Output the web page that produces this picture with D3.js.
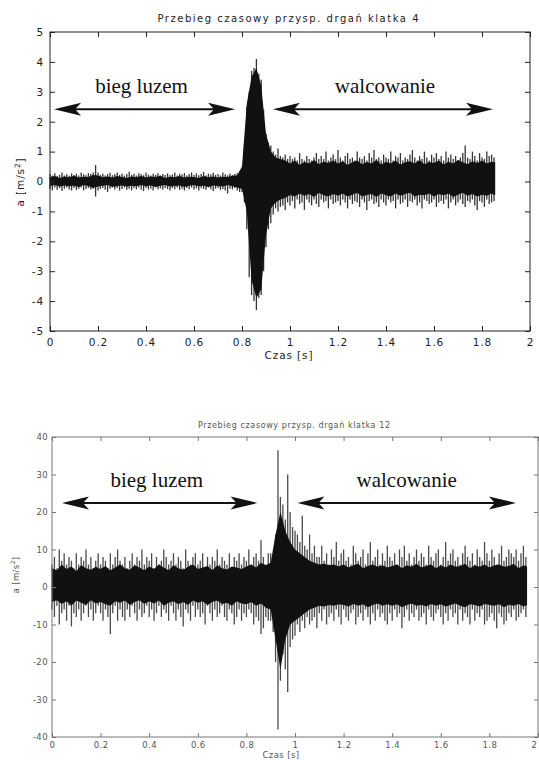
<!DOCTYPE html>
<html>
<head>
<meta charset="utf-8">
<script src="https://cdn.jsdelivr.net/npm/d3@7"></script>
<style>
  body { margin: 0; background: #fff; }
  svg { display: block; }
</style>
</head>
<body>
<div id="chart"></div>
<script>
const width = 539;
const height = 760;
const peakStep = 0.01;   // spike envelope resolution
const denseStep = 0.02;  // dense black band resolution

// ---- chart 1 (klatka 4): spike envelope per 0.01 s bin
const hiA = [
  0.25,0.2,0.28,0.18,0.22,0.3,0.2,0.24,0.19,0.27,
  0.22,0.26,0.2,0.3,0.24,0.21,0.28,0.25,0.3,0.55,
  0.3,0.22,0.26,0.2,0.25,0.29,0.21,0.24,0.3,0.22,
  0.27,0.2,0.25,0.33,0.22,0.26,0.2,0.28,0.24,0.21,
  0.3,0.23,0.2,0.26,0.22,0.28,0.2,0.25,0.22,0.27,
  0.21,0.24,0.3,0.2,0.26,0.23,0.28,0.2,0.25,0.3,
  0.22,0.27,0.21,0.25,0.32,0.2,0.26,0.23,0.29,0.22,
  0.25,0.2,0.3,0.24,0.21,0.27,0.22,0.25,0.28,0.35,
  0.4,1.2,2.5,3.0,3.7,3.8,4.1,3.6,3.4,2.4,
  1.6,1.3,1.2,1.0,0.9,1.1,0.85,0.8,0.9,0.75,
  0.85,0.75,0.8,0.7,0.95,0.75,0.7,0.85,0.75,0.7,
  0.8,0.95,0.75,0.85,0.75,1.0,0.7,0.8,0.9,0.75,
  1.05,0.8,0.7,0.85,0.95,0.75,0.8,0.7,1.0,0.8,
  0.75,0.85,0.7,0.95,0.8,1.05,0.75,0.8,0.7,0.9,
  0.8,0.75,1.0,0.7,0.85,0.8,0.95,0.7,0.8,0.75,
  0.9,1.05,0.8,0.7,0.85,0.75,1.0,0.8,0.7,0.9,
  0.8,0.95,0.75,0.85,0.7,1.0,0.8,0.9,0.75,0.85,
  0.7,0.8,0.95,1.2,0.8,0.75,1.0,0.85,0.7,0.95,
  0.8,0.75,1.0,0.85,0.9,0.8
];
const loA = [
  -0.25,-0.3,-0.2,-0.28,-0.22,-0.32,-0.24,-0.2,-0.27,-0.3,
  -0.22,-0.28,-0.24,-0.2,-0.3,-0.25,-0.22,-0.27,-0.24,-0.5,
  -0.3,-0.25,-0.22,-0.28,-0.35,-0.24,-0.2,-0.27,-0.22,-0.3,
  -0.25,-0.2,-0.28,-0.24,-0.3,-0.22,-0.26,-0.2,-0.28,-0.32,
  -0.22,-0.27,-0.24,-0.3,-0.2,-0.26,-0.23,-0.28,-0.22,-0.25,
  -0.3,-0.22,-0.26,-0.2,-0.28,-0.24,-0.3,-0.22,-0.26,-0.2,
  -0.27,-0.23,-0.3,-0.22,-0.25,-0.28,-0.2,-0.26,-0.32,-0.24,
  -0.22,-0.28,-0.25,-0.3,-0.4,-0.24,-0.27,-0.22,-0.3,-0.35,
  -0.35,-0.7,-1.6,-3.2,-3.8,-4.0,-4.3,-3.9,-3.8,-3.0,
  -2.2,-1.6,-1.4,-1.1,-0.9,-1.0,-0.85,-0.8,-0.95,-0.7,
  -0.8,-0.65,-0.9,-0.6,-0.75,-0.7,-0.95,-0.6,-0.7,-0.8,
  -0.6,-0.75,-0.85,-0.6,-0.7,-0.65,-0.9,-0.6,-0.75,-0.7,
  -0.65,-0.8,-0.6,-0.7,-0.9,-0.6,-0.75,-0.65,-0.7,-0.85,
  -0.6,-0.7,-0.95,-0.65,-0.6,-0.75,-0.7,-0.85,-0.6,-0.7,
  -0.8,-0.6,-0.7,-0.65,-0.9,-0.6,-0.75,-0.7,-0.6,-0.85,
  -0.65,-0.7,-0.6,-0.8,-0.7,-0.9,-0.6,-0.65,-0.75,-0.7,
  -0.6,-0.85,-0.7,-0.65,-0.75,-0.6,-0.9,-0.7,-0.6,-0.8,
  -0.7,-0.6,-0.75,-0.85,-0.65,-0.7,-0.6,-0.8,-0.95,-0.65,
  -0.7,-0.85,-0.6,-0.75,-0.7,-0.65
];
// dense black band per 0.02 s
const denseHiA = [
  0.15,0.18,0.12,0.17,0.14,0.19,0.13,0.16,0.15,0.22,
  0.2,0.14,0.17,0.13,0.18,0.15,0.12,0.17,0.14,0.18,
  0.13,0.17,0.15,0.19,0.12,0.16,0.14,0.18,0.13,0.16,
  0.15,0.12,0.18,0.14,0.17,0.13,0.16,0.15,0.19,0.2,
  0.5,2.6,3.5,3.8,3.2,1.6,1.0,0.8,0.75,0.7,
  0.6,0.7,0.55,0.65,0.6,0.72,0.58,0.66,0.62,0.7,
  0.6,0.68,0.55,0.64,0.7,0.58,0.65,0.6,0.72,0.57,
  0.66,0.6,0.7,0.56,0.64,0.68,0.6,0.72,0.58,0.65,
  0.62,0.7,0.57,0.66,0.6,0.72,0.64,0.58,0.68,0.62,
  0.7,0.6,0.66,0.64
];
const denseLoA = [
  -0.15,-0.12,-0.17,-0.13,-0.16,-0.14,-0.18,-0.12,-0.15,-0.22,
  -0.17,-0.14,-0.12,-0.18,-0.15,-0.13,-0.17,-0.14,-0.16,-0.12,
  -0.16,-0.13,-0.18,-0.14,-0.12,-0.17,-0.15,-0.13,-0.18,-0.14,
  -0.12,-0.16,-0.14,-0.18,-0.13,-0.15,-0.17,-0.12,-0.16,-0.2,
  -0.25,-1.0,-3.3,-3.9,-3.6,-1.8,-0.9,-0.7,-0.6,-0.55,
  -0.45,-0.5,-0.4,-0.48,-0.42,-0.52,-0.38,-0.46,-0.5,-0.42,
  -0.48,-0.4,-0.5,-0.44,-0.38,-0.5,-0.45,-0.42,-0.52,-0.4,
  -0.46,-0.5,-0.4,-0.48,-0.42,-0.38,-0.5,-0.44,-0.46,-0.4,
  -0.5,-0.42,-0.46,-0.4,-0.52,-0.44,-0.38,-0.48,-0.42,-0.5,
  -0.44,-0.48,-0.4,-0.46
];

// ---- chart 2 (klatka 12)
const hiB = [
  6,8,5,10,7,9,6,8,7,5,
  9,6,8,7,10,6,8,5,7,9,
  6,8,7,5,9,6,8,10,7,6,
  8,5,7,9,6,8,7,10,6,8,
  7,9,5,8,6,7,10,8,6,7,
  9,6,8,7,5,10,7,6,8,9,
  6,7,9,5,8,6,8,7,10,6,
  8,7,6,9,5,8,7,9,6,8,
  7,10,6,8,9,7,12.5,8,6,9,
  9,8,14,36.5,24,22,18,30,20,16,
  15,14,12,19,11,10,14,9,11,8,
  8,11,7,9,6,10,8,12,7,9,
  10,7,8,6,11,9,7,8,10,6,
  9,12,7,8,10,6,9,7,11,8,
  7,9,6,10,8,11,7,9,6,8,
  10,7,9,8,6,11,8,7,9,10,
  6,8,12,7,9,10,7,8,6,9,
  11,8,7,9,6,10,8,7,12,9,
  7,10,8,6,9,11,7,8,10,9,
  8,10,7,9,11,8
];
const loB = [
  -6,-8,-5,-10,-7,-6,-9,-5,-10.5,-7,
  -8,-6,-9,-7,-5,-8,-6,-9,-7,-5,
  -7,-9,-6,-8,-12.5,-7,-5,-9,-6,-8,
  -9,-6,-8,-5,-7,-9,-6,-8,-7,-5,
  -8,-6,-9,-7,-5,-8,-6,-7,-9,-5,
  -7,-9,-6,-8,-10.5,-6,-7,-9,-5,-8,
  -6,-8,-7,-10,-5,-7,-9,-6,-8,-7,
  -5,-8,-9,-6,-7,-10,-8,-6,-9,-7,
  -8,-6,-7,-10,-8,-9,-12.5,-11,-8,-9,
  -9,-12,-20,-38,-25,-18,-22,-28,-16,-14,
  -13,-10,-12,-9,-11,-8,-10,-9,-8,-11,
  -7,-9,-6,-10,-8,-7,-9,-6,-8,-10,
  -6,-8,-9,-7,-6,-10,-8,-7,-9,-6,
  -8,-10,-7,-9,-6,-8,-7,-9,-10,-7,
  -9,-6,-8,-7,-11,-8,-6,-9,-7,-8,
  -6,-9,-8,-7,-10,-6,-8,-9,-7,-6,
  -8,-10,-7,-9,-6,-8,-7,-10,-6,-9,
  -7,-8,-10,-6,-9,-7,-8,-6,-10,-9,
  -8,-7,-9,-11,-7,-8,-10,-9,-7,-8,
  -6,-9,-8,-7,-6,-8
];
const denseHiB = [
  5,4.5,6,4.8,5.5,4.2,5.8,5,4.6,5.4,
  4.8,5.6,4.4,5.2,6,5,4.6,5.8,5.2,4.5,
  5.5,4.8,6,5.2,4.5,5.8,5,4.6,5.4,6,
  4.8,5.2,5.6,4.5,5.8,5,4.7,5.5,5.2,4.8,
  5.5,6,5.2,6.5,5.8,6.5,14,20,15,12,
  10,9,8,7,6.5,6,6.2,5.8,6,5.5,
  6,5.2,5.8,6.2,5,5.6,6,5.4,5.8,5.2,
  5.6,6,5,5.8,5.4,6.2,5.2,5.6,6,5,
  5.8,5.2,6,5.4,5.6,6.2,5,5.8,5.4,6,
  5.2,5.8,6,5.4,5.6,6.2,5,5.8,5.5
];
const denseLoB = [
  -4,-3.5,-4.5,-3.8,-5,-3.6,-4.2,-4.8,-3.5,-4.4,
  -4,-4.6,-5,-3.8,-4.2,-3.6,-4.8,-4,-3.5,-4.5,
  -3.8,-4.4,-3.6,-5,-4.2,-3.8,-4.6,-4,-4.8,-3.6,
  -4.2,-3.8,-4.8,-4,-3.6,-4.5,-4.2,-5,-3.8,-4.4,
  -4.6,-4,-5,-4.4,-5.5,-6,-14,-22,-14,-10,
  -9,-8,-7,-6,-5.5,-5,-5.2,-4.8,-5,-4.6,
  -4.8,-5.2,-4.5,-5,-4.6,-5.4,-4.8,-4.4,-5,-4.6,
  -5,-4.6,-5.4,-4.8,-4.4,-5,-4.7,-5.2,-4.5,-5,
  -4.6,-5.2,-4.8,-4.4,-5,-5.4,-4.6,-4.8,-5.2,-4.5,
  -4.8,-5,-4.6,-5.4,-4.7,-5,-4.5,-5.2,-4.8
];

// ---- axes and annotations
const xTicks = [0,0.2,0.4,0.6,0.8,1,1.2,1.4,1.6,1.8,2];
const yTicksA = [-5,-4,-3,-2,-1,0,1,2,3,4,5];
const yTicksB = [-40,-30,-20,-10,0,10,20,30,40];
const arrowLabels = ['bieg luzem', 'walcowanie'];
const arrowSpansA = [[0.017, 0.771], [0.929, 1.846]];
const arrowLevelA = 2.42;
const arrowSpansB = [[0.041, 0.846], [1.01, 1.909]];
const arrowLevelB = 22.4;

const svg = d3.select('#chart').append('svg')
  .attr('width', width)
  .attr('height', height);

function drawArrow(g, x0, x1, y, color) {
  const L = 27, h = 6.5, notch = 21;
  g.append('line')
    .attr('x1', x0 + 10).attr('x2', x1 - 10)
    .attr('y1', y).attr('y2', y)
    .attr('stroke', color).attr('stroke-width', 2);
  g.append('path')
    .attr('d', `M${x0},${y} L${x0 + L},${y - h} L${x0 + notch},${y} L${x0 + L},${y + h} Z`)
    .attr('fill', color);
  g.append('path')
    .attr('d', `M${x1},${y} L${x1 - L},${y - h} L${x1 - notch},${y} L${x1 - L},${y + h} Z`)
    .attr('fill', color);
}

function drawPanel(cfg) {
  const g = svg.append('g').attr('transform', `translate(${cfg.left}, ${cfg.top})`);
  const x = d3.scaleLinear().domain([0, 2]).range([0, cfg.w]);
  const y = d3.scaleLinear().domain(cfg.yDomain).range([cfg.h, 0]);

  // spiky outer envelope, one stroke per bin
  g.selectAll('.peak')
    .data(cfg.hi.map((v, i) => ({ t: i * peakStep, hi: v, lo: cfg.lo[i] })))
    .enter().append('line')
    .attr('class', 'peak')
    .attr('x1', d => x(d.t)).attr('x2', d => x(d.t))
    .attr('y1', d => y(d.hi)).attr('y2', d => y(d.lo))
    .attr('stroke', cfg.peakColor)
    .attr('stroke-width', cfg.peakWidth);

  // dense black band of the trace, ragged edge
  const area = d3.area()
    .x((d, i) => x(Math.min(i * denseStep, cfg.end)))
    .y0((d, i) => y(cfg.denseLo[i]))
    .y1(d => y(d));
  g.append('path')
    .datum(cfg.denseHi)
    .attr('d', area)
    .attr('fill', '#111');

  // axes with inward MATLAB-style ticks
  const fmt = d => String(d);
  const axStyle = sel => {
    sel.select('.domain').remove();
    sel.selectAll('line').attr('stroke', cfg.axisColor);
    sel.selectAll('text')
      .attr('fill', cfg.textColor)
      .style('font-family', 'DejaVu Sans, sans-serif')
      .style('font-size', cfg.tickFont + 'px')
      .style('letter-spacing', cfg.tickSpacing + 'px');
  };
  const xAxisG = g.append('g').attr('transform', `translate(0, ${cfg.h})`)
    .call(d3.axisBottom(x).tickValues(xTicks).tickFormat(fmt).tickSize(-cfg.tick).tickPadding(cfg.xPad))
    .call(axStyle);
  xAxisG.selectAll('.tick text').filter(d => d === 2).attr('dx', cfg.lastTickDx);
  g.append('g')
    .call(d3.axisTop(x).tickValues(xTicks).tickFormat('').tickSize(-cfg.tick))
    .call(axStyle);
  g.append('g')
    .call(d3.axisLeft(y).tickValues(cfg.yTicks).tickFormat(fmt).tickSize(-cfg.tick).tickPadding(cfg.yPad))
    .call(axStyle);
  g.append('g').attr('transform', `translate(${cfg.w}, 0)`)
    .call(d3.axisRight(y).tickValues(cfg.yTicks).tickFormat('').tickSize(-cfg.tick))
    .call(axStyle);

  g.append('rect')
    .attr('width', cfg.w).attr('height', cfg.h)
    .attr('fill', 'none')
    .attr('stroke', cfg.axisColor)
    .attr('stroke-width', 1);

  // title and axis labels
  g.append('text')
    .attr('x', cfg.titleX).attr('y', cfg.titleY)
    .attr('text-anchor', 'middle')
    .attr('textLength', cfg.titleLen).attr('lengthAdjust', 'spacing')
    .attr('fill', cfg.textColor)
    .style('font-family', 'DejaVu Sans, sans-serif')
    .style('font-size', cfg.titleFont + 'px')
    .text(cfg.title);

  g.append('text')
    .attr('x', cfg.xLabelX).attr('y', cfg.xLabelY)
    .attr('text-anchor', 'middle')
    .attr('fill', cfg.textColor)
    .style('font-family', 'DejaVu Sans, sans-serif')
    .style('font-size', cfg.tickFont + 'px')
    .style('letter-spacing', cfg.tickSpacing + 'px')
    .text('Czas [s]');

  const yl = g.append('text')
    .attr('transform', `translate(${cfg.yLabelX}, ${cfg.yLabelY}) rotate(-90)`)
    .attr('text-anchor', 'middle')
    .attr('fill', cfg.textColor)
    .style('font-family', 'DejaVu Sans, sans-serif')
    .style('font-size', cfg.tickFont + 'px')
    .style('letter-spacing', cfg.tickSpacing + 'px');
  yl.append('tspan').text('a [m/s');
  yl.append('tspan').attr('dy', -4).style('font-size', (cfg.tickFont * 0.7) + 'px').text('2');
  yl.append('tspan').attr('dy', 4).text(']');

  // annotation arrows
  cfg.arrows.forEach((span, i) => {
    const x0 = x(span[0]), x1 = x(span[1]);
    const ay = y(cfg.arrowLevel);
    drawArrow(g, x0, x1, ay, '#111');
    g.append('text')
      .attr('x', (x0 + x1) / 2 + cfg.labelShift[i])
      .attr('y', ay - cfg.labelLift)
      .attr('text-anchor', 'middle')
      .attr('fill', '#111')
      .style('font-family', 'Liberation Serif, Times New Roman, serif')
      .style('font-size', '21px')
      .text(arrowLabels[i]);
  });
}

drawPanel({
  left: 50, top: 32, w: 480, h: 299, end: 1.855,
  yDomain: [-5, 5], yTicks: yTicksA,
  hi: hiA, lo: loA, denseHi: denseHiA, denseLo: denseLoA,
  peakColor: '#333', peakWidth: 1.3, axisColor: '#222', textColor: '#222',
  tick: 5, tickFont: 10.5, tickSpacing: 0.9, xPad: 8, yPad: 6, lastTickDx: 0,
  title: 'Przebieg czasowy przysp. drgań klatka 4',
  titleX: 238, titleY: -10, titleLen: 261, titleFont: 10,
  xLabelX: 239, xLabelY: 327, yLabelX: -26, yLabelY: 150,
  arrows: arrowSpansA, arrowLevel: arrowLevelA, labelShift: [-3, 2], labelLift: 16
});

drawPanel({
  left: 52, top: 437, w: 486, h: 300, end: 1.955,
  yDomain: [-40, 40], yTicks: yTicksB,
  hi: hiB, lo: loB, denseHi: denseHiB, denseLo: denseLoB,
  peakColor: '#4a4a4a', peakWidth: 1.3, axisColor: '#777', textColor: '#555',
  tick: 4, tickFont: 8.5, tickSpacing: 0.4, xPad: 5, yPad: 4, lastTickDx: -4,
  title: 'Przebieg czasowy przysp. drgań klatka 12',
  titleX: 242, titleY: -9, titleLen: 192, titleFont: 8,
  xLabelX: 229, xLabelY: 321, yLabelX: -33, yLabelY: 138,
  arrows: arrowSpansB, arrowLevel: arrowLevelB, labelShift: [-3, 0], labelLift: 16
});
</script>
</body>
</html>
